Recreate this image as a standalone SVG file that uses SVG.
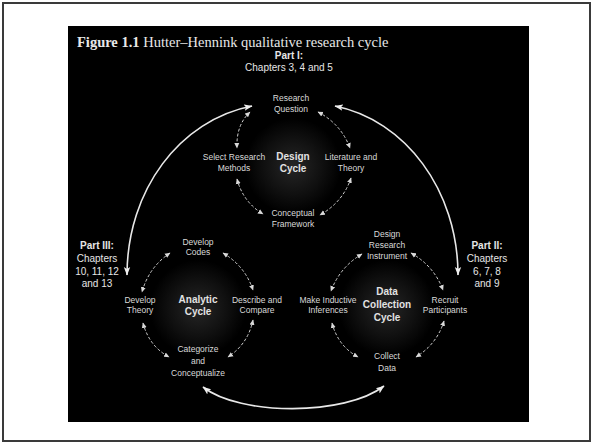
<svg xmlns="http://www.w3.org/2000/svg" width="593" height="444" viewBox="0 0 593 444">
<style>
.lbl{font-family:"Liberation Sans",Arial,sans-serif;font-size:8.5px;fill:#d9d9d9;text-anchor:middle}
.cyc{font-family:"Liberation Sans",Arial,sans-serif;font-size:10px;font-weight:bold;fill:#e2e2e2;text-anchor:middle}
.part{font-family:"Liberation Sans",Arial,sans-serif;font-size:10px;fill:#e6e6e6;text-anchor:middle}
.dash{fill:none;stroke:#cfcfcf;stroke-width:1;stroke-dasharray:3 2;marker-start:url(#sh);marker-end:url(#sh)}
.solid{fill:none;stroke:#e8e8e8;stroke-width:1.6;marker-start:url(#bh);marker-end:url(#bh)}
</style>
<defs>
<radialGradient id="glow" cx="0.5" cy="0.5" r="0.5">
<stop offset="0" stop-color="#262626"/>
<stop offset="0.6" stop-color="#101010"/>
<stop offset="1" stop-color="#000"/>
</radialGradient>
<marker id="sh" markerUnits="userSpaceOnUse" markerWidth="6" markerHeight="6" refX="5" refY="3" orient="auto-start-reverse">
<path d="M0,0.5 L5.5,3 L0,5.5 z" fill="#d9d9d9"/>
</marker>
<marker id="bh" markerUnits="userSpaceOnUse" markerWidth="9" markerHeight="8" refX="8" refY="4" orient="auto-start-reverse">
<path d="M0,0.8 L8.5,4 L0,7.2 L2,4 z" fill="#eeeeee"/>
</marker>
</defs>
<rect x="3" y="3" width="587" height="438" fill="#ffffff" stroke="#3a3a3a" stroke-width="2"/>
<rect x="68" y="26" width="461" height="396" fill="#000000"/>
<text x="77" y="47" font-family="'Liberation Serif','Times New Roman',serif" font-size="14.5" fill="#e8e8e8"><tspan font-weight="bold">Figure 1.1</tspan> Hutter–Hennink qualitative research cycle</text>
<circle cx="293" cy="166" r="48" fill="url(#glow)"/>
<circle cx="198" cy="308" r="48" fill="url(#glow)"/>
<circle cx="387" cy="308" r="48" fill="url(#glow)"/>
<g id="connectors">
<path class="solid" d="M127,275 C127,190 180,120 252,106"/>
<path class="solid" d="M458,275 C458,190 405,120 335,106"/>
<path class="solid" d="M203,387 C240,416 345,416 384,386"/>
<path class="dash" d="M250,112 Q236,125 237,148"/>
<path class="dash" d="M318,112 Q341,124 350,148"/>
<path class="dash" d="M237,179 Q243,202 263,214"/>
<path class="dash" d="M351,178 Q343,202 320,215"/>
<path class="dash" d="M170,253 Q149,267 142,292"/>
<path class="dash" d="M223,253 Q245,266 253,290"/>
<path class="dash" d="M143,323 Q149,346 169,357"/>
<path class="dash" d="M253,320 Q248,344 228,357"/>
<path class="dash" d="M362,254 Q340,267 331,291"/>
<path class="dash" d="M411,253 Q434,266 443,290"/>
<path class="dash" d="M332,323 Q338,346 358,357"/>
<path class="dash" d="M444,321 Q437,344 416,357"/>
</g>
<g id="part1">
<text class="part" x="289" y="59" font-weight="bold" font-size="9.5">Part I:</text>
<text class="part" x="289" y="71" font-size="9.5">Chapters 3, 4 and 5</text>
</g>
<g id="part2">
<text class="part" x="487" y="249" font-weight="bold">Part II:</text>
<text class="part" x="487" y="262">Chapters</text>
<text class="part" x="487" y="275">6, 7, 8</text>
<text class="part" x="487" y="287">and 9</text>
</g>
<g id="part3">
<text class="part" x="97" y="249" font-weight="bold">Part III:</text>
<text class="part" x="97" y="262">Chapters</text>
<text class="part" x="97" y="275">10, 11, 12</text>
<text class="part" x="97" y="287">and 13</text>
</g>
<g id="research-question"><text class="lbl" x="291" y="101">Research</text><text class="lbl" x="291" y="112">Question</text></g>
<g id="select-research-methods"><text class="lbl" x="234" y="160">Select Research</text><text class="lbl" x="234" y="171">Methods</text></g>
<g id="design-cycle"><text class="cyc" x="293" y="160">Design</text><text class="cyc" x="293" y="172">Cycle</text></g>
<g id="literature-theory"><text class="lbl" x="351" y="160">Literature and</text><text class="lbl" x="351" y="171">Theory</text></g>
<g id="conceptual-framework"><text class="lbl" x="293" y="216">Conceptual</text><text class="lbl" x="293" y="227">Framework</text></g>
<g id="develop-codes"><text class="lbl" x="198" y="245">Develop</text><text class="lbl" x="198" y="255">Codes</text></g>
<g id="develop-theory"><text class="lbl" x="140" y="303">Develop</text><text class="lbl" x="140" y="313">Theory</text></g>
<g id="analytic-cycle"><text class="cyc" x="198" y="303">Analytic</text><text class="cyc" x="198" y="315">Cycle</text></g>
<g id="describe-compare"><text class="lbl" x="257" y="303">Describe and</text><text class="lbl" x="257" y="313">Compare</text></g>
<g id="categorize"><text class="lbl" x="198" y="352">Categorize</text><text class="lbl" x="198" y="364">and</text><text class="lbl" x="198" y="376">Conceptualize</text></g>
<g id="design-instrument"><text class="lbl" x="387" y="237">Design</text><text class="lbl" x="387" y="248">Research</text><text class="lbl" x="387" y="259">Instrument</text></g>
<g id="make-inferences"><text class="lbl" x="328" y="303">Make Inductive</text><text class="lbl" x="328" y="313">Inferences</text></g>
<g id="data-collection-cycle"><text class="cyc" x="387" y="295">Data</text><text class="cyc" x="387" y="308">Collection</text><text class="cyc" x="387" y="321">Cycle</text></g>
<g id="recruit-participants"><text class="lbl" x="445" y="303">Recruit</text><text class="lbl" x="445" y="313">Participants</text></g>
<g id="collect-data"><text class="lbl" x="387" y="359">Collect</text><text class="lbl" x="387" y="371">Data</text></g>
</svg>
